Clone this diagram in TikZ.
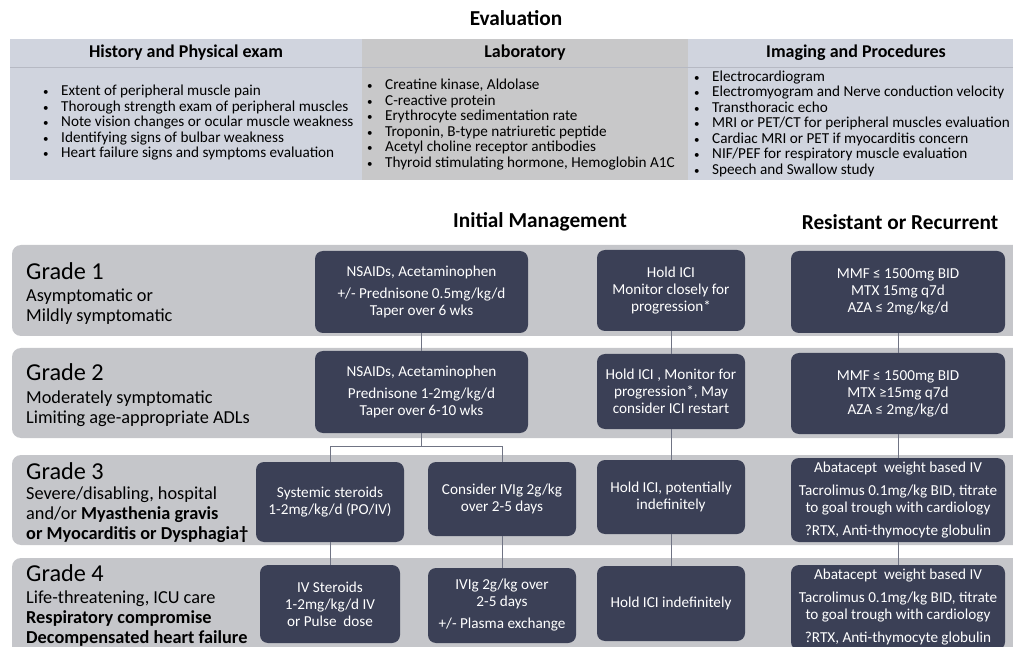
\documentclass[tikz,border=0pt]{standalone}
\usepackage{fontspec}
\setmainfont{Carlito}
\usetikzlibrary{positioning}

\definecolor{evalblue}{RGB}{208,212,222}
\definecolor{evalgray}{RGB}{200,200,201}
\definecolor{evalline}{RGB}{182,185,195}
\definecolor{rowgray}{RGB}{197,198,202}
\definecolor{boxnavy}{RGB}{59,64,86}
\definecolor{linkgray}{RGB}{112,116,132}

\newcommand{\bul}{\makebox[18pt][l]{\fontsize{11}{11}\selectfont\textbullet}}

\begin{document}
\begin{tikzpicture}[x=1pt,y=-1pt]
  \tikzset{
    grade row/.style={fill=rowgray,rounded corners=9pt},
    tx box/.style={fill=boxnavy,rounded corners=8pt,text=white,align=center,inner sep=2pt,font=\fontsize{15.2}{17}\selectfont},
    grade title/.style={anchor=base west,inner sep=0pt,font=\fontsize{24.3}{24}\selectfont},
    grade text/.style={anchor=north west,inner sep=0pt,align=left,font=\fontsize{18.3}{20}\selectfont},
    col head/.style={inner sep=0pt,font=\bfseries\fontsize{18}{18}\selectfont},
    big head/.style={inner sep=0pt,font=\bfseries\fontsize{21.3}{21}\selectfont},
    bullets/.style={anchor=west,inner sep=0pt,align=left,font=\fontsize{15.2}{15.5}\selectfont},
    link/.style={draw=linkgray,line width=0.9pt}
  }
  \useasboundingbox (0,0) rectangle (1013,647);
  \clip (0,0) rectangle (1013,647);

  % evaluation table
  \node[big head] (eval) at (516,18) {Evaluation};
  \fill[evalblue] (10,39) rectangle (362,180);
  \fill[evalgray] (362,39) rectangle (688,180);
  \fill[evalblue] (688,39) rectangle (1013,180);
  \draw[evalline] (10,67) -- (1013,67);

  \node[col head] (hhist) at (186,53) {History and Physical exam};
  \node[col head] (hlab) at (525,53) {Laboratory};
  \node[col head] (himg) at (856,53) {Imaging and Procedures};

  \node[bullets] (lhist) at (43,123) {\bul Extent of peripheral muscle pain\\
    \bul Thorough strength exam of peripheral muscles\\
    \bul Note vision changes or ocular muscle weakness\\
    \bul Identifying signs of bulbar weakness\\
    \bul Heart failure signs and symptoms evaluation};
  \node[bullets] (llab) at (367,124.5) {\bul Creatine kinase, Aldolase\\
    \bul C-reactive protein\\
    \bul Erythrocyte sedimentation rate\\
    \bul Troponin, B-type natriuretic peptide\\
    \bul Acetyl choline receptor antibodies\\
    \bul Thyroid stimulating hormone, Hemoglobin A1C};
  \node[bullets] (limg) at (694,123.5) {\bul Electrocardiogram\\
    \bul Electromyogram and Nerve conduction velocity\\
    \bul Transthoracic echo\\
    \bul MRI or PET/CT for peripheral muscles evaluation\\
    \bul Cardiac MRI or PET if myocarditis concern\\
    \bul NIF/PEF for respiratory muscle evaluation\\
    \bul Speech and Swallow study};

  % management
  \node[big head] (initial) at (540,222) {Initial Management};
  \node[big head] (resist) at (900,222) {Resistant or Recurrent};

  \path[grade row] (12,245) rectangle (1030,336);
  \path[grade row] (12,348) rectangle (1030,438);
  \path[grade row] (12,455) rectangle (1030,545);
  \path[grade row] (12,558) rectangle (1030,670);

  \node[grade title] (g1) at (26,280) {Grade 1};
  \node[grade text] (g1t) at (26,289) {Asymptomatic or\\Mildly symptomatic};
  \node[grade title] (g2) at (26,381) {Grade 2};
  \node[grade text] (g2t) at (26,391) {Moderately symptomatic\\Limiting age-appropriate ADLs};
  \node[grade title] (g3) at (26,479) {Grade 3};
  \node[grade text] (g3t) at (26,487) {Severe/disabling, hospital\\and/or \textbf{Myasthenia gravis}\\\textbf{or Myocarditis or Dysphagia\textdagger}};
  \node[grade title] (g4) at (26,581) {Grade 4};
  \node[grade text] (g4t) at (26,591) {Life-threatening, ICU care\\\textbf{Respiratory compromise}\\\textbf{Decompensated heart failure}};

  \node[tx box,minimum width=213pt,minimum height=82pt] (nsaid1) at (421.5,292) {NSAIDs, Acetaminophen\\[5pt]+/- Prednisone 0.5mg/kg/d\\Taper over 6 wks};
  \node[tx box,minimum width=148pt,minimum height=81pt] (hold1) at (671,290.5) {Hold ICI\\Monitor closely for\\progression*};
  \node[tx box,minimum width=214pt,minimum height=82pt] (mmf1) at (898,292) {MMF ≤ 1500mg BID\\MTX 15mg q7d\\AZA ≤ 2mg/kg/d};

  \node[tx box,minimum width=213pt,minimum height=82pt] (nsaid2) at (421.5,392) {NSAIDs, Acetaminophen\\[5pt]Prednisone 1-2mg/kg/d\\Taper over 6-10 wks};
  \node[tx box,minimum width=148pt,minimum height=75pt] (hold2) at (671,391.5) {Hold ICI , Monitor for\\progression*, May\\consider ICI restart};
  \node[tx box,minimum width=214pt,minimum height=81pt] (mmf2) at (898,393.5) {MMF ≤ 1500mg BID\\MTX ≥15mg q7d\\AZA ≤ 2mg/kg/d};

  \node[tx box,minimum width=148pt,minimum height=80pt] (steroid3) at (330,502) {Systemic steroids\\1-2mg/kg/d (PO/IV)};
  \node[tx box,minimum width=148pt,minimum height=74pt] (ivig3) at (502,499) {Consider IVIg 2g/kg\\over 2-5 days};
  \node[tx box,minimum width=148pt,minimum height=74pt] (hold3) at (671,497) {Hold ICI, potentially\\indefinitely};
  \node[tx box,minimum width=214pt,minimum height=84pt] (abata3) at (898,500) {Abatacept\ \ weight based IV\\[6pt]Tacrolimus 0.1mg/kg BID, titrate\\to goal trough with cardiology\\[6pt]?RTX, Anti-thymocyte globulin};

  \node[tx box,minimum width=140pt,minimum height=78pt] (steroid4) at (330,604) {IV Steroids\\1-2mg/kg/d IV\\or Pulse\ \ dose};
  \node[tx box,minimum width=148pt,minimum height=75pt] (ivig4) at (502,605.5) {IVIg 2g/kg over\\2-5 days\\[5pt]+/- Plasma exchange};
  \node[tx box,minimum width=148pt,minimum height=75pt] (hold4) at (671,603.5) {Hold ICI indefinitely};
  \node[tx box,minimum width=214pt,minimum height=85pt] (abata4) at (898,607.5) {Abatacept\ \ weight based IV\\[6pt]Tacrolimus 0.1mg/kg BID, titrate\\to goal trough with cardiology\\[6pt]?RTX, Anti-thymocyte globulin};

  % connectors
  \draw[link] (nsaid1) -- (nsaid2);
  \draw[link] (hold1) -- (hold2);
  \draw[link] (mmf1) -- (mmf2);
  \draw[link] (nsaid2.south) -- ++(0,13) coordinate (split) -| (steroid3.north);
  \draw[link] (split) -| (ivig3.north);
  \draw[link] (hold2) -- (hold3);
  \draw[link] (mmf2) -- (abata3);
  \draw[link] (steroid3) -- (steroid4);
  \draw[link] (ivig3) -- (ivig4);
  \draw[link] (hold3) -- (hold4);
  \draw[link] (abata3) -- (abata4);
\end{tikzpicture}
\end{document}
